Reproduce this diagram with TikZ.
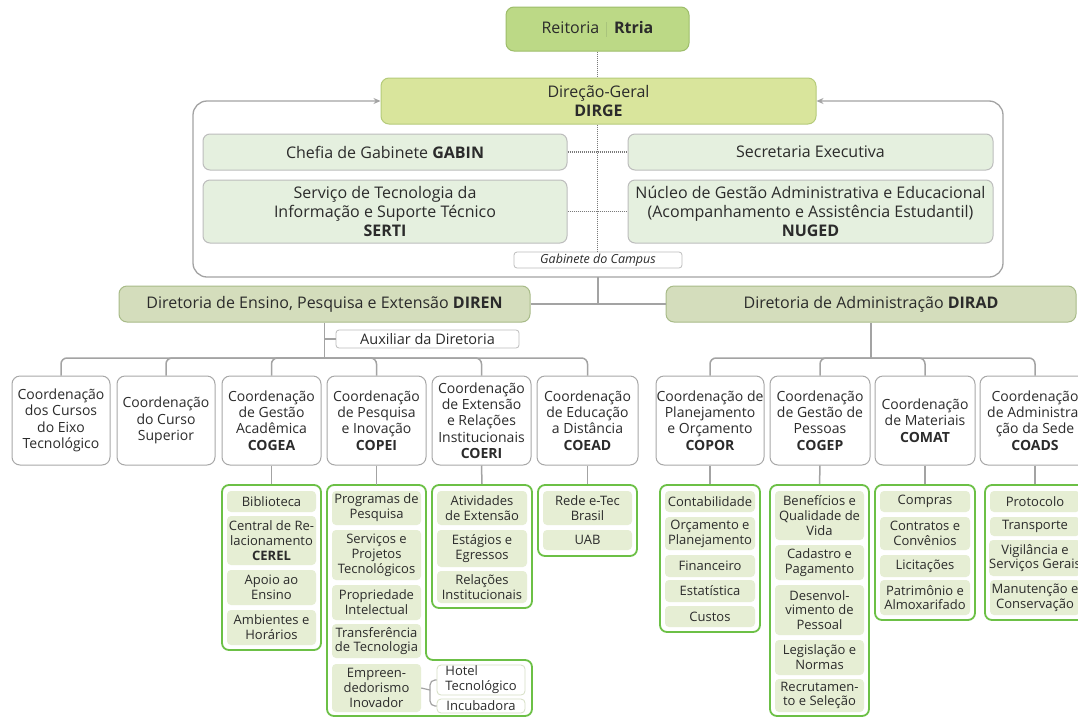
\documentclass[tikz,border=0pt]{standalone}
\usepackage{fontspec}
\setmainfont{Open Sans}
\usetikzlibrary{arrows.meta}
\definecolor{txt}{HTML}{2B2B2B}
\definecolor{lineg}{HTML}{A3A3A3}
\definecolor{dotg}{HTML}{7A7A7A}
\definecolor{reiF}{HTML}{BCD986}
\definecolor{reiD}{HTML}{9DBD6A}
\definecolor{dirgeF}{HTML}{D9E59C}
\definecolor{dirgeD}{HTML}{B5CB7A}
\definecolor{gabF}{HTML}{E5F0DF}
\definecolor{gabD}{HTML}{BDBDBD}
\definecolor{dirF}{HTML}{D4DDBC}
\definecolor{dirD}{HTML}{A8BB88}
\definecolor{cD}{HTML}{A8A8A8}
\definecolor{grpG}{HTML}{6CC046}
\definecolor{itemF}{HTML}{E6EED4}
\definecolor{subD}{HTML}{D6DFC4}
\definecolor{sepc}{HTML}{A9C47C}
\newcommand{\bx}[7]{%
  \pgfmathsetmacro{\bxX}{(#3+#5)/2}%
  \pgfmathsetmacro{\bxY}{(#4+#6)/2}%
  \pgfmathsetmacro{\bxW}{#5-#3}%
  \pgfmathsetmacro{\bxH}{#6-#4}%
  \node[#1, minimum width=\bxW pt, minimum height=\bxH pt] (#2) at (\bxX,\bxY) {#7};}
\newcommand{\itm}[6]{\bx{item}{#1}{#2}{#3}{#4}{#5}{#6}}
\newcommand{\cbx}[6]{\bx{cbox}{#1}{#2}{#3}{#4}{#5}{#6}}
\newcommand{\grpbox}[5]{\bx{grp}{#1}{#2}{#3}{#4}{#5}{}}
\begin{document}
\begin{tikzpicture}[x=1pt,y=-1pt,
  every node/.style={inner sep=0pt, text=txt},
  conn/.style={draw=lineg, line width=1.5pt},
  dotl/.style={draw=dotg, line width=1.3pt, dash pattern=on 1pt off 1pt},
  reibox/.style={draw=reiD, fill=reiF, rounded corners=8pt, line width=1pt, font=\fontsize{16}{19}\selectfont},
  dirgebox/.style={draw=dirgeD, fill=dirgeF, rounded corners=8pt, line width=1pt, align=center, font=\fontsize{16}{18.5}\selectfont},
  gabitem/.style={draw=gabD, fill=gabF, rounded corners=7pt, line width=1pt, align=center, font=\fontsize{16}{19}\selectfont},
  tag/.style={draw=gabD, fill=white, rounded corners=3pt, line width=0.8pt},
  dirbox/.style={draw=dirD, fill=dirF, rounded corners=8pt, line width=1pt, font=\fontsize{16}{19}\selectfont},
  cbox/.style={draw=cD, fill=white, rounded corners=8pt, line width=1pt, align=center, font=\fontsize{14}{16.3}\selectfont},
  grp/.style={draw=grpG, fill=white, rounded corners=7pt, line width=1.8pt},
  item/.style={fill=itemF, rounded corners=4pt, align=center, font=\fontsize{13}{14.8}\selectfont},
  sub/.style={draw=subD, fill=white, rounded corners=4pt, line width=0.8pt, font=\fontsize{13}{14.8}\selectfont},
]
\clip (0,0) rectangle (1078,718);
\fill[white] (0,0) rectangle (1078,718);

% --- top
\bx{reibox}{rei}{506}{7}{689}{51}{Reitoria\hspace{7pt}{\color{sepc}\rule[-3pt]{0.8pt}{15pt}}\hspace{7pt}\textbf{Rtria}}
\bx{dirgebox}{dirge}{381}{78}{816}{124}{Direção-Geral\\\textbf{DIRGE}}

% gabinete frame
\coordinate (gabBL) at (193,277);
\coordinate (gabTR) at (1003,101);
\draw[conn, line width=1.3pt, rounded corners=14pt, {Stealth[length=7pt,width=6pt]}-{Stealth[length=7pt,width=6pt]}] (dirge.west) -| (gabBL) -| (gabTR) -- (dirge.east);

\bx{gabitem}{gabin}{203}{134}{567}{170}{Chefia de Gabinete \textbf{GABIN}}
\bx{gabitem}{secex}{628}{134}{993}{170}{Secretaria Executiva}
\bx{gabitem}{serti}{203}{180}{567}{243}{Serviço de Tecnologia da\\Informação e Suporte Técnico\\\textbf{SERTI}}
\bx{gabitem}{nuged}{628}{180}{993}{243}{Núcleo de Gestão Administrativa e Educacional\\(Acompanhamento e Assistência Estudantil)\\\textbf{NUGED}}
\bx{tag, font=\fontsize{12.5}{15}\selectfont\itshape}{gabtag}{514}{252}{682}{268}{Gabinete do Campus}

\draw[dotl] (rei.south) -- (rei.south |- dirge.north);
\draw[dotl] (rei.south |- dirge.south) -- (rei.south |- gabtag.north);
\draw[dotl] (gabin.east) -- (secex.west);
\draw[dotl] (serti.east) -- (nuged.west);

% --- directorates
\bx{dirbox}{diren}{119}{286}{530}{322}{Diretoria de Ensino, Pesquisa e Extensão \textbf{DIREN}}
\bx{dirbox}{dirad}{666}{286}{1076}{322}{Diretoria de Administração \textbf{DIRAD}}
\coordinate (gabB) at (598,277);
\draw[conn] (gabB) |- (diren.east);
\draw[conn] (gabB) |- (dirad.west);

\bx{tag, font=\fontsize{14.5}{17}\selectfont}{aux}{336}{330}{519}{348}{Auxiliar da Diretoria}
\coordinate (busL) at (324.5,358);
\coordinate (busR) at (871,358);
\draw[conn] (diren.south) -- (busL);
\draw[conn] (diren.south |- aux.west) -- (aux.west);
\draw[conn] (dirad.south) -- (busR);

% --- coordinations
\cbx{k1}{12}{376}{110}{465}{Coordenação\\dos Cursos\\do Eixo\\Tecnológico}
\cbx{k2}{117}{376}{215}{465}{Coordenação\\do Curso\\Superior}
\cbx{k3}{222}{376}{321}{465}{Coordenação\\de Gestão\\Acadêmica\\\textbf{COGEA}}
\cbx{k4}{327}{376}{426}{465}{Coordenação\\de Pesquisa\\e Inovação\\\textbf{COPEI}}
\cbx{k5}{432}{376}{531}{465}{Coordenação\\de Extensão\\e Relações\\Institucionais\\\textbf{COERI}}
\cbx{k6}{537}{376}{638}{465}{Coordenação\\de Educação\\a Distância\\\textbf{COEAD}}
\cbx{m1}{656}{376}{764}{465}{Coordenação de\\Planejamento\\e Orçamento\\\textbf{COPOR}}
\cbx{m2}{770}{376}{870}{465}{Coordenação\\de Gestão de\\Pessoas\\\textbf{COGEP}}
\cbx{m3}{875}{376}{975}{465}{Coordenação\\de Materiais\\\textbf{COMAT}}
\cbx{m4}{980}{376}{1090}{465}{Coordenação\\de Administra-\\ção da Sede\\\textbf{COADS}}

\foreach \k in {k1,k2,k3,k4,k5,k6} {\draw[conn, rounded corners=6pt] (busL) -| (\k.north);}
\foreach \k in {m1,m2,m3,m4} {\draw[conn, rounded corners=6pt] (busR) -| (\k.north);}

% --- groups
\grpbox{gA}{222}{485}{321}{650}
\draw[grp] (327,485) -- (426,485) -- (426,660) -- (532,660) -- (532,716) -- (327,716) -- cycle;
\coordinate (gBtop) at (376.5,485);
\grpbox{gC}{432}{485}{532}{608}
\grpbox{gD}{538}{485}{637}{556}
\grpbox{gE}{660}{485}{760}{632}
\grpbox{gF}{770}{485}{869}{716}
\grpbox{gG}{875}{485}{975}{620}
\grpbox{gH}{985}{485}{1085}{620}

\draw[conn] (k3.south) -- (gA.north);
\draw[conn] (k4.south) -- (gBtop);
\draw[conn] (k5.south) -- (gC.north);
\draw[conn] (k6.south) -- (gD.north);
\draw[conn] (m1.south) -- (gE.north);
\draw[conn] (m2.south) -- (gF.north);
\draw[conn] (m3.south) -- (gG.north);
\draw[conn] (m4.south) -- (gH.north);

% COGEA
\itm{ia1}{227}{491}{316}{512}{Biblioteca}
\itm{ia2}{227}{516}{316}{565}{Central de Re-\\lacionamento\\\textbf{CEREL}}
\itm{ia3}{227}{570}{316}{605}{Apoio ao\\Ensino}
\itm{ia4}{227}{610}{316}{645}{Ambientes e\\Horários}
% COPEI
\itm{ib1}{332}{491}{421}{525}{Programas de\\Pesquisa}
\itm{ib2}{332}{530}{421}{580}{Serviços e\\Projetos\\Tecnológicos}
\itm{ib3}{332}{585}{421}{620}{Propriedade\\Intelectual}
\itm{ib4}{332}{624}{421}{658}{Transferência\\de Tecnologia}
\itm{ib5}{332}{664}{421}{712}{Empreen-\\dedorismo\\Inovador}
\bx{sub, align=left}{hotel}{437}{665}{525}{695}{Hotel\\Tecnológico}
\bx{sub}{incub}{437}{699}{525}{713}{Incubadora}
\coordinate (brace) at (430,690);
\draw[conn, line width=1.2pt] (ib5.east) -- (brace);
\draw[conn, line width=1.2pt, rounded corners=5pt] (brace) |- (hotel.west);
\draw[conn, line width=1.2pt, rounded corners=5pt] (brace) |- (incub.west);
% COERI
\itm{ic1}{437}{491}{527}{525}{Atividades\\de Extensão}
\itm{ic2}{437}{530}{527}{567}{Estágios e\\Egressos}
\itm{ic3}{437}{571}{527}{603}{Relações\\Institucionais}
% COEAD
\itm{id1}{543}{491}{632}{525}{Rede e-Tec\\Brasil}
\itm{id2}{543}{530}{632}{550}{UAB}
% COPOR
\itm{ie1}{665}{491}{755}{512}{Contabilidade}
\itm{ie2}{665}{517}{755}{550}{Orçamento e\\Planejamento}
\itm{ie3}{665}{555}{755}{577}{Financeiro}
\itm{ie4}{665}{580}{755}{602}{Estatística}
\itm{ie5}{665}{606}{755}{627}{Custos}
% COGEP
\itm{if1}{775}{491}{864}{540}{Benefícios e\\Qualidade de\\Vida}
\itm{if2}{775}{545}{864}{580}{Cadastro e\\Pagamento}
\itm{if3}{775}{585}{864}{635}{Desenvol-\\vimento de\\Pessoal}
\itm{if4}{775}{640}{864}{675}{Legislação e\\Normas}
\itm{if5}{775}{679}{864}{712}{Recrutamen-\\to e Seleção}
% COMAT
\itm{ig1}{880}{491}{970}{512}{Compras}
\itm{ig2}{880}{517}{970}{550}{Contratos e\\Convênios}
\itm{ig3}{880}{555}{970}{577}{Licitações}
\itm{ig4}{880}{580}{970}{615}{Patrimônio e\\Almoxarifado}
% COADS
\itm{ih1}{990}{491}{1080}{512}{Protocolo}
\itm{ih2}{990}{517}{1080}{536}{Transporte}
\itm{ih3}{990}{540}{1080}{576}{Vigilância e\\Serviços Gerais}
\itm{ih4}{990}{580}{1080}{615}{Manutenção e\\Conservação}
\end{tikzpicture}
\end{document}
